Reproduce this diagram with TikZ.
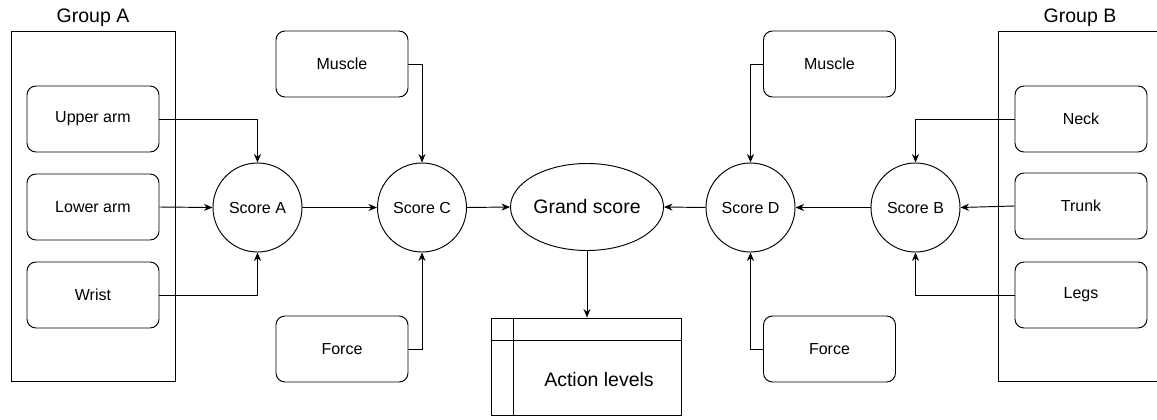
\documentclass[tikz,border=0pt]{standalone}
\usepackage{fontspec}
\setmainfont{Liberation Sans}
\usetikzlibrary{arrows.meta,shapes.geometric}
\begin{document}
\begin{tikzpicture}[x=1pt,y=-1pt,
  line width=0.95pt,
  rbox/.style={draw,rounded corners=9pt,minimum width=132pt,minimum height=66pt,inner sep=0pt,font=\fontsize{16}{19}\selectfont},
  score/.style={draw,circle,minimum size=89pt,inner sep=0pt,font=\fontsize{16}{19}\selectfont},
  grp/.style={draw,minimum width=164pt,minimum height=350pt,inner sep=0pt},
  biglabel/.style={font=\fontsize{19.5}{23}\selectfont,inner sep=0pt},
  arr/.style={-{Stealth[length=8.5pt,width=7pt]}}]
\useasboundingbox[fill=white] (0,0) rectangle (1157,420);

% groups
\node[grp] (ga) at (93,206) {};
\node[biglabel] (gal) at (93,17.5) {Group A};
\node[grp] (gb) at (1080,206) {};
\node[biglabel] (gbl) at (1080,17.5) {Group B};

% group A boxes
\node[rbox] (ua) at (93,119) {Upper arm};
\node[rbox] (la) at (93,207) {Lower arm};
\node[rbox] (wr) at (93,295) {Wrist};

% group B boxes
\node[rbox] (nk) at (1081,119) {Neck};
\node[rbox] (tr) at (1081,206) {Trunk};
\node[rbox] (lg) at (1081,295) {Legs};

% muscle / force
\node[rbox] (ml) at (342,64) {Muscle};
\node[rbox] (fl) at (342,349) {Force};
\node[rbox] (mr) at (829.5,64) {Muscle};
\node[rbox] (fr) at (829.5,349) {Force};

% scores
\node[score] (sa) at (257.5,207.5) {Score A};
\node[score] (sc) at (422,207.5) {Score C};
\node[score] (sd) at (750.5,207.5) {Score D};
\node[score] (sb) at (915.5,207.5) {Score B};

\node[draw,ellipse,minimum width=153pt,minimum height=87pt,inner sep=0pt,biglabel] (gs) at (587,207) {Grand score};

% action levels
\node[draw,minimum width=190pt,minimum height=97pt,inner sep=0pt] (al) at (586,366.5) {};
\draw (al.north west |- 0,340) -- (al.north east |- 0,340);
\draw (513,0 |- al.north) -- (513,0 |- al.south);
\node[biglabel] (alt) at (599,380) {Action levels};

% connectors
\draw[arr] (ua.east) -| (sa.north);
\draw[arr] (la.east) -- (sa.west);
\draw[arr] (wr.east) -| (sa.south);
\draw[arr] (sa.east) -- (sc.west);
\draw[arr] (ml.east) -| (sc.north);
\draw[arr] (fl.east) -| (sc.south);
\draw[arr] (sc.east) -- (gs.west);
\draw[arr] (sd.west) -- (gs.east);
\draw[arr] (mr.west) -| (sd.north);
\draw[arr] (fr.west) -| (sd.south);
\draw[arr] (sb.west) -- (sd.east);
\draw[arr] (nk.west) -| (sb.north);
\draw[arr] (tr.west) -- (sb.east);
\draw[arr] (lg.west) -| (sb.south);
\draw[arr] (gs.south) -- (gs.south |- al.north);
\end{tikzpicture}
\end{document}
